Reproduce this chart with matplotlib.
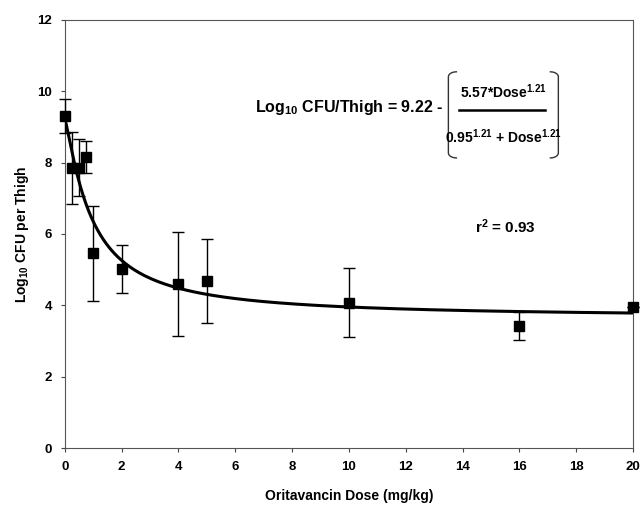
#!/usr/bin/env python3
"""Oritavancin dose-response: log10 CFU per thigh vs dose with Hill fit."""

import matplotlib
matplotlib.use("Agg")
import matplotlib.pyplot as plt
import numpy as np

plt.rcParams["font.family"] = ["Liberation Sans", "DejaVu Sans"]
plt.rcParams["font.weight"] = "bold"
plt.rcParams["mathtext.fontset"] = "custom"
plt.rcParams["mathtext.rm"] = "Liberation Sans:bold"
plt.rcParams["mathtext.bf"] = "Liberation Sans:bold"
plt.rcParams["mathtext.it"] = "Liberation Sans:bold"
plt.rcParams["mathtext.default"] = "bf"

dose = [0.0, 0.25, 0.5, 0.75, 1.0, 2.0, 4.0, 5.0, 10.0, 16.0, 20.0]
log_cfu = [9.30, 7.85, 7.85, 8.15, 5.46, 5.01, 4.59, 4.69, 4.08, 3.42, 3.95]
sd = [0.48, 1.0, 0.8, 0.45, 1.33, 0.67, 1.46, 1.18, 0.97, 0.39, 0.0]

# fitted Emax model parameters shown on the chart
E0 = 9.22
EMAX = 5.57
ED50 = 0.95
HILL = 1.21

x_ticks = list(range(0, 21, 2))
y_ticks = list(range(0, 13, 2))

fig = plt.figure(figsize=(6.42, 5.07), dpi=100)
ax = fig.add_axes([0.101, 0.116, 0.885, 0.845])

xs = np.linspace(0, 20, 400)
fit = E0 - EMAX * xs**HILL / (ED50**HILL + xs**HILL)
ax.plot(xs, fit, color="black", lw=2.2, zorder=2)

eb = ax.errorbar(dose, log_cfu, yerr=sd, fmt="s", color="black", ms=6.5,
                 ecolor="black", elinewidth=1.0, capsize=4, capthick=1.0, zorder=3)
for art in eb.get_children():
    art.set_clip_on(False)

ax.set_xlim(0, 20)
ax.set_ylim(0, 12)
ax.set_xticks(x_ticks)
ax.set_yticks(y_ticks)
ax.tick_params(labelsize=9.5, length=3, width=0.8, color="#444444", pad=6)
for lab in ax.get_xticklabels() + ax.get_yticklabels():
    lab.set_fontweight("bold")

for sp in ax.spines.values():
    sp.set_color("#555555")
    sp.set_linewidth(0.8)
    sp.set_linestyle((0, (3, 1)))

ax.set_xlabel("Oritavancin Dose (mg/kg)", fontsize=10, fontweight="bold", labelpad=12)
ax.set_ylabel(r"Log$_{10}$ CFU per Thigh", fontsize=10, fontweight="bold", labelpad=5)


# equation annotation placed in picture pixel coords
def px(x, y):
    return (x - 64.3) / (632.7 - 64.3), (448 - y) / (448 - 20)


eq_kw = dict(transform=ax.transAxes, fontsize=11, fontweight="bold", color="black")
ax.text(*px(255, 108), "Log$_{10}$ CFU/Thigh = 9.22 -", ha="left", va="center",
        **{**eq_kw, "fontsize": 11.5})
ax.text(*px(503, 92), "5.57*Dose$^{1.21}$", ha="center", va="center",
        **{**eq_kw, "fontsize": 10})
ax.text(*px(503, 137), "0.95$^{1.21}$ + Dose$^{1.21}$", ha="center", va="center",
        **{**eq_kw, "fontsize": 10})
x0, y0 = px(459, 110)
x1, _ = px(545, 110)
ax.plot([x0, x1], [y0, y0], transform=ax.transAxes, color="black", lw=1.8)

# curved brackets around the fraction
t = np.linspace(0, 1, 30)
for xa, xb in ((456, 448), (550, 558)):
    top_x = xa + (xb - xa) * np.sin(t * np.pi / 2)
    top_y = 72 + 5 * (1 - np.cos(t * np.pi / 2))
    bx = np.concatenate([top_x, [xb, xb], top_x[::-1]])
    by = np.concatenate([top_y, [77, 153], 158 - (top_y[::-1] - 72)])
    pts = [px(a, b) for a, b in zip(bx, by)]
    ax.plot([p[0] for p in pts], [p[1] for p in pts], transform=ax.transAxes,
            color="#333333", lw=1.0)

ax.text(*px(475, 227), "r$^{2}$ = 0.93", ha="left", va="center", **eq_kw)

fig.savefig("out.png", dpi=100)
